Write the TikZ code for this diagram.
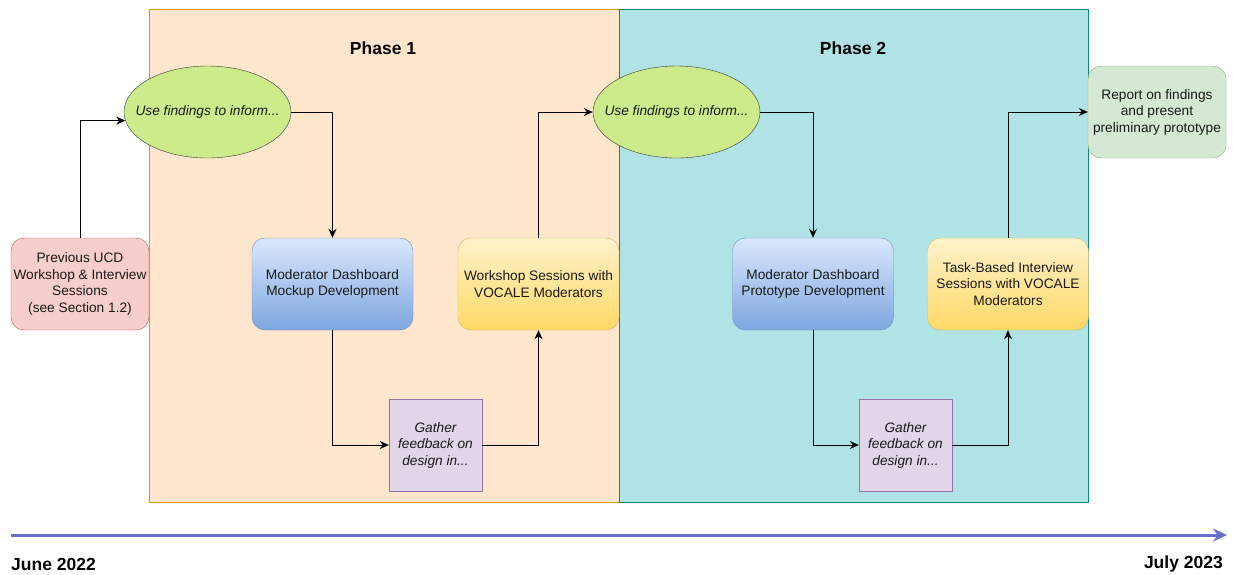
\documentclass[tikz,border=0pt]{standalone}
\usepackage{fontspec}
\setmainfont{Liberation Sans}
\usepackage{tikz}
\usetikzlibrary{positioning,shapes.geometric,arrows.meta}
\definecolor{phaseOneFill}{RGB}{255,230,204}
\definecolor{phaseOneLine}{RGB}{215,155,0}
\definecolor{phaseTwoFill}{RGB}{176,227,230}
\definecolor{phaseTwoLine}{RGB}{14,128,136}
\definecolor{ellFill}{RGB}{205,235,139}
\definecolor{ellLine}{RGB}{54,57,61}
\definecolor{redFill}{RGB}{248,206,204}
\definecolor{redLine}{RGB}{184,84,80}
\definecolor{blueTop}{RGB}{218,232,252}
\definecolor{blueBottom}{RGB}{126,166,224}
\definecolor{blueLine}{RGB}{108,142,191}
\definecolor{yellowTop}{RGB}{255,242,204}
\definecolor{yellowBottom}{RGB}{255,217,102}
\definecolor{yellowLine}{RGB}{214,182,86}
\definecolor{purpleFill}{RGB}{225,213,231}
\definecolor{purpleLine}{RGB}{150,115,166}
\definecolor{greenFill}{RGB}{213,232,212}
\definecolor{greenLine}{RGB}{130,179,102}
\definecolor{timeColor}{RGB}{102,112,204}
\tikzstyle{diagram} = [x = 1pt, y = -1pt]
\tikzstyle{boxText} = [font=\fontsize{13.7}{16.5}\selectfont, align=center, text=black!90]
\tikzstyle{roundBox} = [boxText, draw, rounded corners = 13pt, minimum width = 161pt, minimum height = 92pt, inner sep = 2pt]
\tikzstyle{blueBox} = [roundBox, top color=blueTop, bottom color=blueBottom, draw=blueLine]
\tikzstyle{yellowBox} = [roundBox, top color=yellowTop, bottom color=yellowBottom, draw=yellowLine]
\tikzstyle{findEllipse} = [boxText, ellipse, draw=ellLine, fill=ellFill, minimum width = 167pt, minimum height = 92pt, inner xsep = -14pt, inner ysep = 0pt, font=\fontsize{13.7}{16.5}\selectfont\itshape]
\tikzstyle{gatherBox} = [boxText, draw=purpleLine, fill=purpleFill, minimum width = 93pt, minimum height = 92pt, inner sep = 1pt, font=\fontsize{13.7}{16.5}\selectfont\itshape]
\tikzstyle{phaseTitle} = [font=\fontsize{17.5}{20}\selectfont\bfseries]
\tikzstyle{flowArrow} = [-{Stealth[length=9pt, width=8pt]}, thick]
\tikzstyle{dateText} = [font=\fontsize{17.5}{20}\selectfont\bfseries, inner sep = 0pt]

\begin{document}
\begin{tikzpicture}[diagram]
  \useasboundingbox (0,0) rectangle (1233,574);

  % phase backgrounds
  \filldraw [fill=phaseOneFill, draw=phaseOneLine] (149,9) rectangle (619,502);
  \filldraw [fill=phaseTwoFill, draw=phaseTwoLine] (619,9) rectangle (1088,502);
  \node [phaseTitle] (titleOne) at (383,48) {Phase 1};
  \node [phaseTitle] (titleTwo) at (853,48) {Phase 2};

  % nodes
  \node [roundBox, fill=redFill, draw=redLine, minimum width = 138pt] (previous) at (80,284) {Previous UCD\\Workshop \& Interview\\Sessions\\(see Section 1.2)};
  \node [findEllipse] (findOne) at (207.5,112) {Use findings to inform...};
  \node [blueBox] (mockup) at (332.5,284) {Moderator Dashboard\\Mockup Development};
  \node [gatherBox] (gatherOne) at (435.5,445) {Gather\\feedback on\\design in...};
  \node [yellowBox] (workshop) at (538.5,284) {Workshop Sessions with\\VOCALE Moderators};

  \node [findEllipse] (findTwo) at (676.5,112) {Use findings to inform...};
  \node [blueBox] (prototype) at (813,284) {Moderator Dashboard\\Prototype Development};
  \node [gatherBox] (gatherTwo) at (905.5,445) {Gather\\feedback on\\design in...};
  \node [yellowBox] (taskBased) at (1008,284) {Task-Based Interview\\Sessions with VOCALE\\Moderators};
  \node [roundBox, fill=greenFill, draw=greenLine, minimum width = 138pt] (report) at (1157,112) {Report on findings\\and present\\preliminary prototype};

  % connectors
  \draw [flowArrow] (previous.north) |- (findOne.186);
  \draw [flowArrow] (findOne.east) -| (mockup.north);
  \draw [flowArrow] (mockup.south) |- (gatherOne.west);
  \draw [flowArrow] (gatherOne.east) -| (workshop.south);
  \draw [flowArrow] (workshop.north) |- (findTwo.west);
  \draw [flowArrow] (findTwo.east) -| (prototype.north);
  \draw [flowArrow] (prototype.south) |- (gatherTwo.west);
  \draw [flowArrow] (gatherTwo.east) -| (taskBased.south);
  \draw [flowArrow] (taskBased.north) |- (report.west);

  % timeline
  \coordinate (timeStart) at (11,535);
  \coordinate (timeEnd) at (1227,535);
  \draw [timeColor, line width = 3pt, -{Stealth[length=14pt, width=13pt]}] (timeStart) -- (timeEnd);
  \node [dateText, anchor = west] (startDate) at (11,564) {June 2022};
  \node [dateText, anchor = east] (endDate) at (1223,564) {July 2023};
\end{tikzpicture}
\end{document}
